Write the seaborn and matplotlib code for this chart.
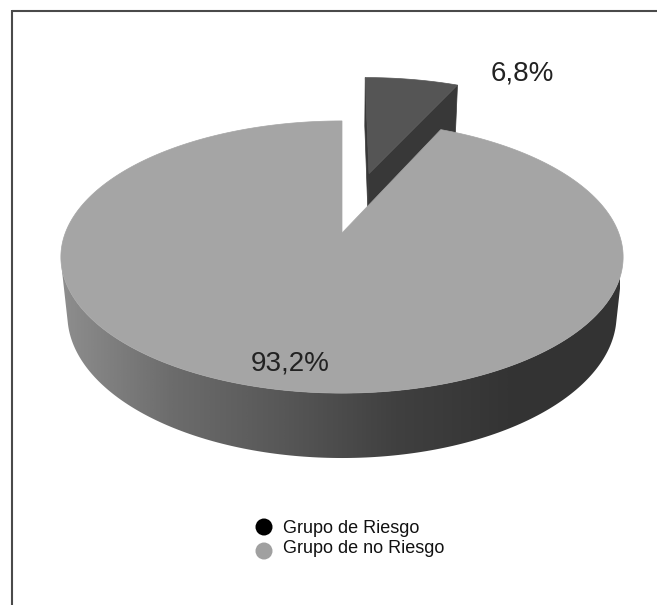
import numpy as np
import matplotlib
matplotlib.use("Agg")
import matplotlib.pyplot as plt
from matplotlib.patches import Polygon
import seaborn as sns

# ---- data -------------------------------------------------------------
labels = ["Grupo de Riesgo", "Grupo de no Riesgo"]
values = [6.8, 93.2]
value_labels = ["6,8%", "93,2%"]
legend_colors = ["#000000", "#a0a0a0"]

# ---- style ------------------------------------------------------------
sns.set_theme(style="white")
plt.rcParams["font.family"] = ["Liberation Sans", "DejaVu Sans"]

W, H = 657, 605
fig = plt.figure(figsize=(W / 100, H / 100), dpi=100)
fig.patch.set_facecolor("white")
ax = fig.add_axes([0, 0, 1, 1])

# ---- perspective camera for the 3-D pie -------------------------------
CX, CY = 342.0, 233.0          # screen position of the pie centre
FOCAL = 1378.0
DIST = 4.98                    # camera distance (in pie radii)
SE = 0.4765                    # sin(elevation)
CE = np.sqrt(1 - SE ** 2)
THICK = 0.241                  # pie height (in pie radii)
EXPLODE = [0.5, 0.0]
START = 90.0                   # first slice starts at 12 o'clock, clockwise

CAM = np.array([0.0, -DIST * CE, DIST * SE])


def project(X, Y, Z):
    X = np.asarray(X, float)
    Y = np.asarray(Y, float)
    Z = np.asarray(Z, float)
    vy = Y + DIST * CE
    vz = Z - DIST * SE
    depth = vy * CE - vz * SE
    up = vy * SE + vz * CE
    return CX + FOCAL * X / depth, CY - FOCAL * up / depth


top_colors = ["#555555", "#a5a5a5"]
cut_colors = ["#383838", "#383838"]
side_cmap = sns.blend_palette(
    ["#8e8e8e", "#6c6c6c", "#575757", "#404040", "#343434", "#333333"], as_cmap=True
)

# slice angle ranges (degrees), clockwise from START
fracs = np.array(values) / np.sum(values)
cum = np.concatenate([[0.0], np.cumsum(fracs)]) * 360.0
spans = [(START - cum[i + 1], START - cum[i]) for i in range(len(values))]


def draw_slice(i):
    t1, t2 = spans[i]
    mid = np.radians((t1 + t2) / 2)
    ox, oy = EXPLODE[i] * np.cos(mid), EXPLODE[i] * np.sin(mid)
    th = np.radians(np.linspace(t1, t2, 400))
    rx, ry = ox + np.cos(th), oy + np.sin(th)

    # outer rim, only the part that faces the camera
    vis = (-ox * np.cos(th) - oy * np.sin(th) - 1 - DIST * CE * np.sin(th)) > 0
    if vis.any():
        idx = np.where(vis)[0]
        runs = np.split(idx, np.where(np.diff(idx) != 1)[0] + 1)
        for run in runs:
            xt, yt = project(rx[run], ry[run], 0.0)
            xb, yb = project(rx[run], ry[run], -THICK)
            pts = np.column_stack([np.concatenate([xt, xb[::-1]]),
                                   np.concatenate([yt, yb[::-1]])])
            poly = Polygon(pts, closed=True, facecolor="none", edgecolor="none")
            ax.add_patch(poly)
            x0, x1 = 60.0, 620.0
            grad = np.linspace(0, 1, 512)[None, :]
            im = ax.imshow(grad, cmap=side_cmap, vmin=0, vmax=1, aspect="auto",
                           extent=(x0, x1, pts[:, 1].max() + 2, pts[:, 1].min() - 2),
                           interpolation="bilinear", zorder=2)
            im.set_clip_path(poly)

    # flat cut faces
    apex = np.array([ox, oy, 0.0])
    for t, sign in ((np.radians(t1), 1), (np.radians(t2), -1)):
        normal = sign * np.array([np.sin(t), -np.cos(t), 0.0])
        if np.dot(normal, CAM - apex) > 1e-9:
            ex, ey = ox + np.cos(t), oy + np.sin(t)
            qx, qy = project([ox, ex, ex, ox], [oy, ey, ey, oy],
                             [0, 0, -THICK, -THICK])
            ax.add_patch(Polygon(np.column_stack([qx, qy]), closed=True,
                                 facecolor=cut_colors[i], edgecolor=cut_colors[i],
                                 lw=0.5, zorder=2))

    # top face
    px, py = project(np.concatenate([[ox], rx]), np.concatenate([[oy], ry]), 0.0)
    ax.add_patch(Polygon(np.column_stack([px, py]), closed=True,
                         facecolor=top_colors[i], edgecolor=top_colors[i],
                         lw=0.5, zorder=3))


# the exploded small slice lies behind, so it goes first
for i in range(len(values)):
    draw_slice(i)

# percentage labels
label_pos = [(522, 73), (290, 363)]
for (lx, ly), txt in zip(label_pos, value_labels):
    ax.text(lx, ly, txt, ha="center", va="center", fontsize=20,
            color="#222222", zorder=5)

# legend
for k, (lab, col) in enumerate(zip(labels, legend_colors)):
    ax.scatter([264], [527 + 24 * k], s=150, color=col, edgecolor="none", zorder=5)
    ax.text(283, 533 + 20 * k, lab, ha="left", va="baseline", fontsize=13,
            color="#111111", zorder=5)

# frame lines
ax.plot([12, W], [10.5, 10.5], color="#4a4a4a", lw=1.5, solid_capstyle="butt")
ax.plot([12, 12], [10, H], color="#4a4a4a", lw=1.5, solid_capstyle="butt")

ax.set_xlim(0, W)
ax.set_ylim(H, 0)
ax.axis("off")

fig.savefig("out.png", dpi=100, facecolor="white")
